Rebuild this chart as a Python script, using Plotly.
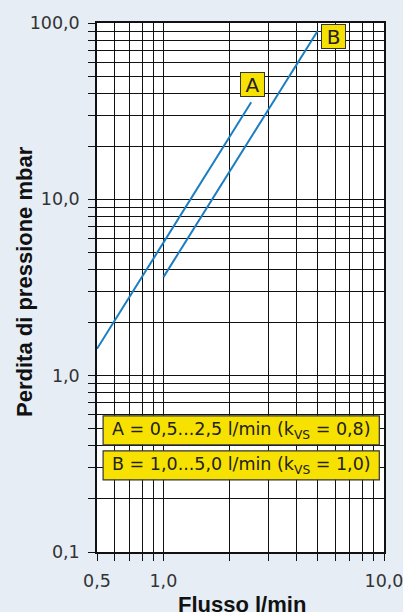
import math
import plotly.graph_objects as go

# Data
flow_A = [0.5, 2.5]
dp_A = [1.42, 35.5]
flow_B = [1.0, 5.0]
dp_B = [3.62, 90.0]

x_tickvals = [0.5, 0.6, 0.7, 0.8, 0.9, 1, 2, 3, 4, 5, 6, 7, 8, 9, 10]
x_ticktext = ["0,5", "", "", "", "", "1,0", "", "", "", "", "", "", "", "", "10,0"]
y_tickvals = [0.1, 0.2, 0.3, 0.4, 0.5, 0.6, 0.7, 0.8, 0.9,
              1, 2, 3, 4, 5, 6, 7, 8, 9,
              10, 20, 30, 40, 50, 60, 70, 80, 90, 100]
y_ticktext = ["0,1"] + [""] * 8 + ["1,0"] + [""] * 8 + ["10,0"] + [""] * 8 + ["100,0"]

legend_lines = ["A = 0,5...2,5 l/min (k<sub>VS</sub> = 0,8)",
                "B = 1,0...5,0 l/min (k<sub>VS</sub> = 1,0)"]
curve_labels = ["A", "B"]
label_flow = [2.53, 5.89]
label_dp = [44.7, 83.6]

BG = "#e6edf5"
YEL = "#f7e100"
BLUE = "#1a7dc1"
FONT = "DejaVu Sans, Liberation Sans, sans-serif"
BOLD = "Liberation Sans, Arial, sans-serif"

# plot-area pixel geometry (for paper coordinates of text outside)
PL, PR, PT, PB = 96.6, 383.7, 22.7, 552.3
PW, PH = PR - PL, PB - PT

fig = go.Figure()
fig.add_trace(go.Scatter(x=flow_A, y=dp_A, mode="lines",
                         line=dict(color=BLUE, width=2), showlegend=False, hoverinfo="skip"))
fig.add_trace(go.Scatter(x=flow_B, y=dp_B, mode="lines",
                         line=dict(color=BLUE, width=2), showlegend=False, hoverinfo="skip"))

axis_common = dict(showgrid=True, gridcolor="#111111", gridwidth=1.3,
                   showline=True, linecolor="#111111", linewidth=1.5,
                   ticks="outside", ticklen=7, tickwidth=1.3, tickcolor="#111111",
                   zeroline=False, mirror=True, automargin=False,
                   ticklabeloverflow="allow",
                   tickfont=dict(family=FONT, size=17.5, color="#333333"))

fig.update_xaxes(type="log", range=[-0.30103, 1.0], tickmode="array",
                 tickvals=x_tickvals, ticktext=x_ticktext, ticklabelstandoff=5,
                 **axis_common)
fig.update_yaxes(type="log", range=[-1, 2], tickmode="array",
                 tickvals=y_tickvals, ticktext=y_ticktext, ticklabelstandoff=5,
                 **axis_common)

shapes = []
annotations = []
box_px = [(416, 445), (451, 480)]
for (top, bot), txt in zip(box_px, legend_lines):
    y1 = (PB - top) / PH
    y0 = (PB - bot) / PH
    shapes.append(dict(type="rect", xref="paper", yref="paper",
                       x0=(102.7 - PL) / PW, x1=(379.0 - PL) / PW, y0=y0, y1=y1,
                       fillcolor=YEL, line=dict(color="#333333", width=1.2),
                       layer="above"))
    annotations.append(dict(text=txt, xref="paper", yref="paper",
                            x=(241 - PL) / PW, y=(y0 + y1) / 2, showarrow=False,
                            xanchor="center", yanchor="middle",
                            font=dict(family=FONT, size=17.5, color="#222222")))

for lx, ly, t in zip(label_flow, label_dp, curve_labels):
    annotations.append(dict(text=t, x=math.log10(lx), y=math.log10(ly), xref="x", yref="y",
                            showarrow=False, width=23, height=23,
                            bgcolor=YEL, bordercolor="#333333", borderwidth=1, borderpad=0,
                            font=dict(family=FONT, size=20, color="#222222")))

annotations.append(dict(text="<b>Perdita di pressione mbar</b>", xref="paper", yref="paper",
                        x=(24 - PL) / PW, y=(PB - 281.5) / PH, textangle=-90,
                        showarrow=False, xanchor="center", yanchor="middle",
                        font=dict(family=BOLD, size=22, color="#111111")))
annotations.append(dict(text="<b>Flusso l/min</b>", xref="paper", yref="paper",
                        x=(242 - PL) / PW, y=(PB - 605) / PH,
                        showarrow=False, xanchor="center", yanchor="middle",
                        font=dict(family=BOLD, size=22, color="#111111")))

fig.update_layout(width=403, height=612, template="none",
                  margin=dict(l=PL, r=403 - PR, t=PT, b=612 - PB, autoexpand=False),
                  paper_bgcolor=BG, plot_bgcolor="white",
                  shapes=shapes, annotations=annotations,
                  font=dict(family=FONT), hovermode=False)

fig.write_html("out.html", config={"displayModeBar": False},
               post_script="document.body.style.margin='0';document.body.style.padding='0';"
                           "document.body.style.background='#e6edf5';")
